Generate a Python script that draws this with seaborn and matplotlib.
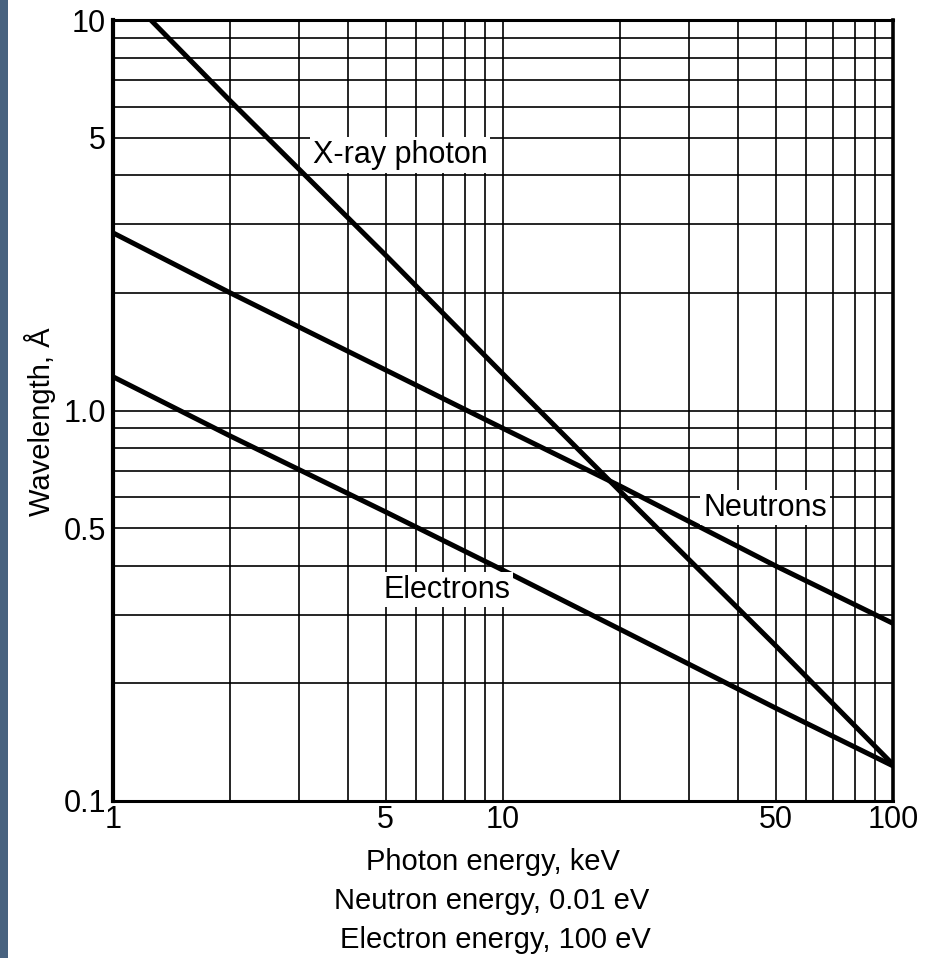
import matplotlib
matplotlib.use("Agg")
import matplotlib.pyplot as plt
import matplotlib.patches as mpatches
from matplotlib.ticker import FixedLocator, NullFormatter
import seaborn as sns
import pandas as pd

# ---- data ----
xray_x = [1.25, 2, 5, 10, 20, 50, 100]
xray_y = [10.0, 6.2, 2.5, 1.24, 0.62, 0.25, 0.124]

neutron_x = [1, 2, 5, 10, 20, 50, 100]
neutron_y = [2.85, 2.0, 1.27, 0.90, 0.64, 0.40, 0.285]

electron_x = [1, 2, 5, 10, 20, 50, 100]
electron_y = [1.22, 0.86, 0.55, 0.39, 0.275, 0.173, 0.123]

x_ticks = [1, 5, 10, 50, 100]
x_tick_labels = ["1", "5", "10", "50", "100"]
y_ticks = [0.1, 0.5, 1.0, 5, 10]
y_tick_labels = ["0.1", "0.5", "1.0", "5", "10"]

x_grid = [2, 3, 4, 5, 6, 7, 8, 9, 10, 20, 30, 40, 50, 60, 70, 80, 90]
y_grid = [0.2, 0.3, 0.4, 0.5, 0.6, 0.7, 0.8, 0.9, 1.0,
          2, 3, 4, 5, 6, 7, 8, 9]

series_labels = ["X-ray photon", "Neutrons", "Electrons"]
label_x = [5.44, 47.0, 7.18]
label_y = [4.51, 0.564, 0.348]
xlabel_lines = ["Photon energy, keV", "Neutron energy, 0.01 eV", "Electron energy, 100 eV"]
ylabel = "Wavelength, Å"

sns.set_theme(style="white")
plt.rcParams["font.family"] = ["Liberation Sans", "DejaVu Sans"]
plt.rcParams["text.color"] = "black"

fig = plt.figure(figsize=(9.26, 9.58), dpi=100)
fig.patch.set_facecolor("white")
# left blue strip
fig.patches.append(mpatches.Rectangle((0, 0), 8 / 926, 1, transform=fig.transFigure,
                                      facecolor="#48627f", edgecolor="none", zorder=0))

ax = fig.add_axes([113 / 926, 1 - 801 / 958, 780 / 926, 781 / 958])
ax.set_facecolor("white")
ax.set_xscale("log")
ax.set_yscale("log")
ax.set_xlim(1, 100)
ax.set_ylim(0.1, 10)

for gx in x_grid:
    ax.axvline(gx, color="black", lw=1.2, zorder=1)
for gy in y_grid:
    ax.axhline(gy, color="black", lw=1.2, zorder=1)

df = pd.concat([
    pd.DataFrame({"E": xray_x, "lam": xray_y, "s": series_labels[0]}),
    pd.DataFrame({"E": neutron_x, "lam": neutron_y, "s": series_labels[1]}),
    pd.DataFrame({"E": electron_x, "lam": electron_y, "s": series_labels[2]}),
])
sns.lineplot(data=df, x="E", y="lam", hue="s", palette=["black"] * 3,
             estimator=None, sort=False, lw=3.6, legend=False, ax=ax, zorder=3)

ax.xaxis.set_major_locator(FixedLocator(x_ticks))
ax.set_xticklabels(x_tick_labels)
ax.xaxis.set_minor_formatter(NullFormatter())
ax.yaxis.set_major_locator(FixedLocator(y_ticks))
ax.set_yticklabels(y_tick_labels)
ax.yaxis.set_minor_formatter(NullFormatter())
ax.tick_params(axis="both", which="both", length=0, labelsize=22,
               colors="black", labelcolor="black")
ax.tick_params(axis="x", pad=3)
ax.tick_params(axis="y", pad=5)
ax.set_xlabel("")
ax.set_ylabel("")

for side, w in [("left", 3.0), ("bottom", 2.2), ("top", 2.2), ("right", 2.6)]:
    ax.spines[side].set_visible(True)
    ax.spines[side].set_color("black")
    ax.spines[side].set_linewidth(w)

box = dict(facecolor="white", edgecolor="none", pad=2)
for txt, lx, ly in zip(series_labels, label_x, label_y):
    ax.text(lx, ly, txt, fontsize=22, ha="center", va="center", bbox=box,
            zorder=4, color="black")

centers = [493, 492, 495]
for i, line in enumerate(xlabel_lines):
    fig.text(centers[i] / 926, 1 - (862 + 39 * i) / 958, line, fontsize=21,
             ha="center", va="center", color="black")
fig.text(40 / 926, 1 - 422 / 958, ylabel, fontsize=21, rotation=90,
         ha="center", va="center", color="black")

fig.savefig("out.png", dpi=100, facecolor="white")
